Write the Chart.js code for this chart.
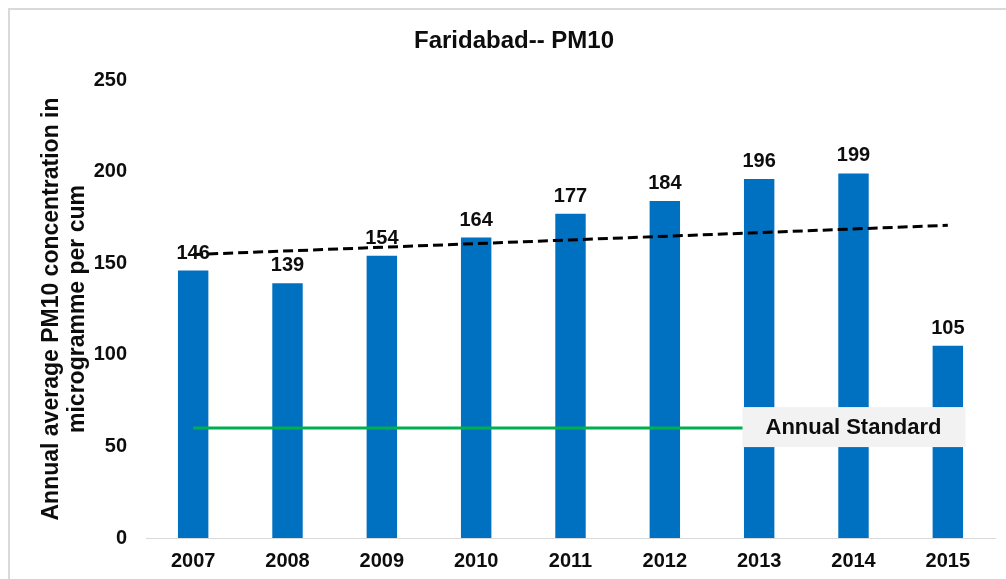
<!DOCTYPE html>
<html>
<head>
<meta charset="utf-8">
<script src="https://cdn.jsdelivr.net/npm/chart.js@4.4.1/dist/chart.umd.min.js"></script>
<style>
  html, body { margin: 0; padding: 0; background: #fff; }
  #frame {
    position: absolute; left: 8px; top: 8px; width: 1010px; height: 590px;
    border-left: 2px solid #d9d9d9; border-top: 2px solid #d9d9d9;
  }
  #wrap { position: absolute; left: 0; top: 0; width: 1006px; height: 579px; }
</style>
</head>
<body>
<div id="frame"></div>
<div id="wrap"><canvas id="pm10-bar"></canvas></div>
<script>
//
// Faridabad PM10 bar chart
//

// Data
var years = ['2007', '2008', '2009', '2010', '2011', '2012', '2013', '2014', '2015'];
var pm10Values = [146, 139, 154, 164, 177, 184, 196, 199, 105];
var standardValues = [60, 60, 60, 60, 60, 60, 60, 60, 60];
var trendValues = [154.7, null, null, null, null, null, null, null, 170.7];
var yTicks = [0, 50, 100, 150, 200, 250];
var standardLabel = 'Annual Standard';
var chartTitle = 'Faridabad-- PM10';

var FONT = '"Liberation Sans", Arial, sans-serif';

// Title, placed a bit right of centre as in the original
var titleText = {
	id: 'titleText',
	afterDraw: function(chart) {
		var ctx = chart.ctx;
		ctx.save();
		ctx.font = 'bold 24px ' + FONT;
		ctx.fillStyle = '#0d0d0d';
		ctx.textAlign = 'center';
		ctx.textBaseline = 'middle';
		ctx.fillText(chartTitle, 514, 41);
		ctx.restore();
	}
};

// Value labels above bars
var barLabels = {
	id: 'barLabels',
	afterDatasetsDraw: function(chart) {
		var ctx = chart.ctx;
		var meta = chart.getDatasetMeta(0);
		ctx.save();
		ctx.font = 'bold 20px ' + FONT;
		ctx.fillStyle = '#0d0d0d';
		ctx.textAlign = 'center';
		ctx.textBaseline = 'alphabetic';
		meta.data.forEach(function(bar, i) {
			ctx.fillText(String(pm10Values[i]), bar.x, bar.y - 12);
		});
		ctx.restore();
	}
};

// Label box for the standard line
var standardBox = {
	id: 'standardBox',
	afterDraw: function(chart) {
		var ctx = chart.ctx;
		var x = chart.scales.x.getPixelForValue(7);
		var y = chart.scales.y.getPixelForValue(standardValues[7]);
		ctx.save();
		ctx.fillStyle = '#f2f2f2';
		ctx.fillRect(x - 111, y - 21, 223, 40);
		ctx.font = 'bold 22px ' + FONT;
		ctx.fillStyle = '#0d0d0d';
		ctx.textAlign = 'center';
		ctx.textBaseline = 'middle';
		ctx.fillText(standardLabel, x, y);
		ctx.restore();
	}
};

var pm10Chart = new Chart(document.getElementById('pm10-bar'), {
	type: 'bar',
	data: {
		labels: years,
		datasets: [{
			type: 'bar',
			label: 'PM10',
			data: pm10Values,
			backgroundColor: '#0070c0',
			barPercentage: 0.645,
			categoryPercentage: 0.5,
			order: 2
		}, {
			type: 'line',
			label: 'Trend',
			data: trendValues,
			spanGaps: true,
			borderColor: '#000',
			borderWidth: 3,
			borderDash: [10, 5],
			pointRadius: 0,
			fill: false,
			order: 0
		}, {
			type: 'line',
			label: standardLabel,
			data: standardValues,
			borderColor: '#00b050',
			borderWidth: 3,
			pointRadius: 0,
			fill: false,
			order: 1
		}]
	},
	options: {
		responsive: true,
		maintainAspectRatio: false,
		animation: false,
		layout: { padding: { left: 0, right: 11, top: 80, bottom: 0 } },
		plugins: {
			legend: { display: false },
			tooltip: { enabled: false },
			title: { display: false }
		},
		scales: {
			x: {
				afterFit: function(axis) { axis.height = 41; },
				grid: { display: false, drawTicks: false },
				border: { display: true, color: '#d9d9d9', width: 1 },
				ticks: {
					color: '#0d0d0d',
					padding: 11,
					font: { family: FONT, size: 20, weight: 'bold' }
				}
			},
			y: {
				min: 0,
				max: 250,
				afterBuildTicks: function(axis) {
					axis.ticks = yTicks.map(function(v) { return { value: v }; });
				},
				afterFit: function(axis) { axis.width = 146; },
				grid: { display: false, drawTicks: false },
				border: { display: false },
				ticks: {
					color: '#0d0d0d',
					padding: 19,
					font: { family: FONT, size: 20, weight: 'bold' }
				},
				title: {
					display: true,
					text: ['Annual average PM10 concentration in', 'microgramme per cum'],
					color: '#0d0d0d',
					font: { family: FONT, size: 23, weight: 'bold', lineHeight: 1.15 },
					padding: { top: 38, bottom: 0 }
				}
			}
		}
	},
	plugins: [barLabels, standardBox, titleText]
});
</script>
</body>
</html>
